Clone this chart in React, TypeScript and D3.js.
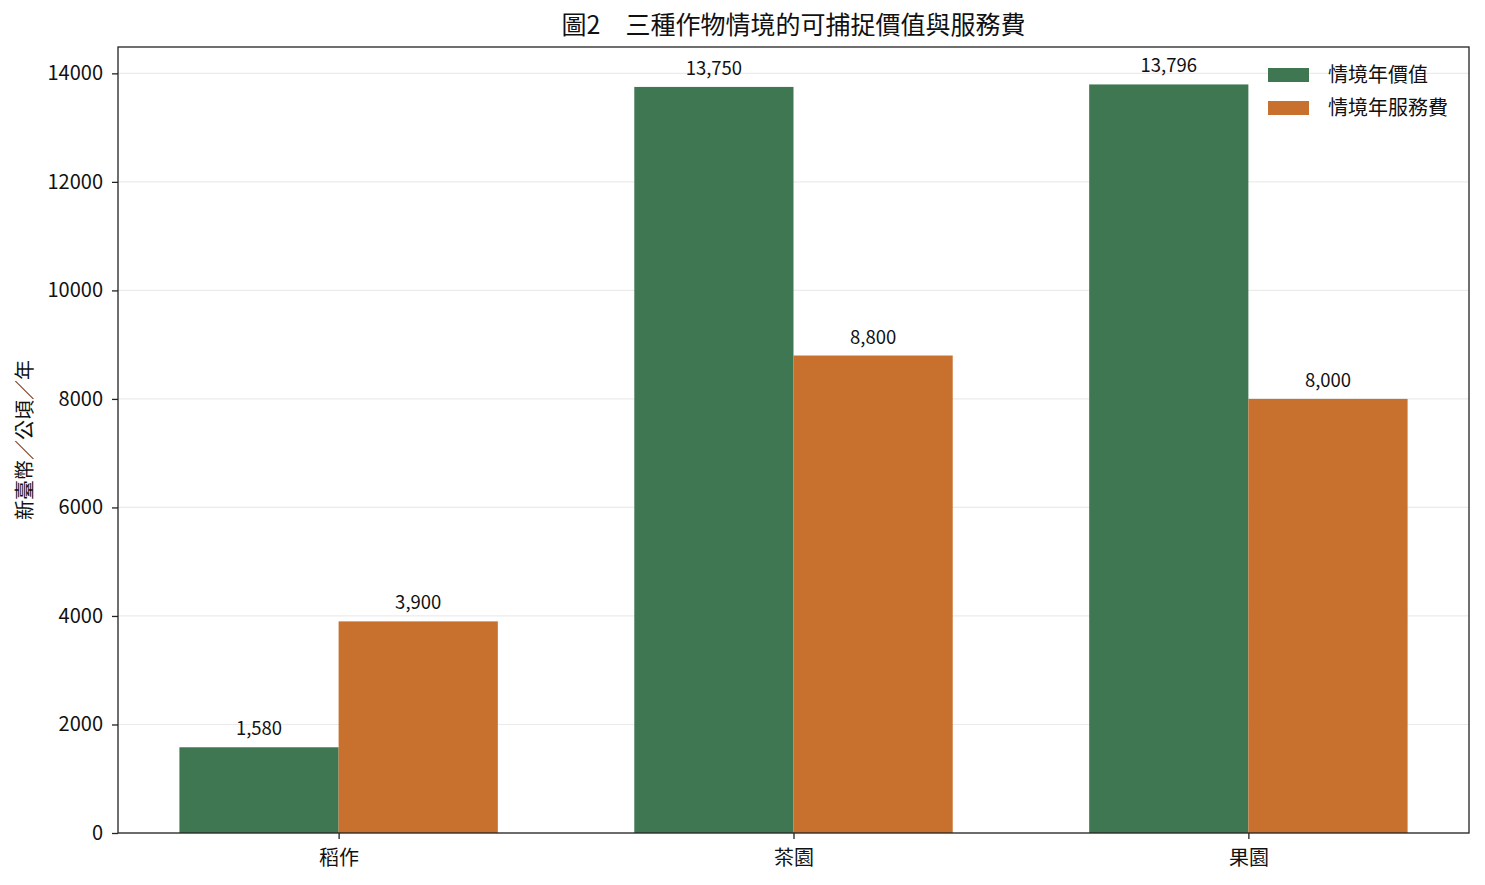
import { useRef, useEffect } from 'react'
import * as d3 from 'd3'

const categories = ['稻作', '茶園', '果園']
const seriesNames = ['情境年價值', '情境年服務費']
const valueSeries = [1580, 13750, 13796]
const feeSeries = [3900, 8800, 8000]
const yTicks = [0, 2000, 4000, 6000, 8000, 10000, 12000, 14000]
const colors = ['#3f7752', '#c8702e']

const FONT = '"Noto Sans CJK TC", "Noto Sans", sans-serif'

const App = () => {
	const svgRef = useRef<SVGSVGElement | null>(null)

	useEffect(() => {
		if (!svgRef.current) return
		const width = 1485
		const height = 885
		const margin = { top: 47, right: 16, bottom: 52, left: 118 }

		d3.select(svgRef.current).selectAll('*').remove()
		const svg = d3
			.select(svgRef.current)
			.attr('width', width)
			.attr('height', height)
			.style('font-family', FONT)

		const barW = 0.35
		const x = d3
			.scaleLinear()
			.domain([-0.485, categories.length - 1 + 0.485])
			.range([margin.left, width - margin.right])
		const y = d3
			.scaleLinear()
			.domain([0, d3.max(valueSeries.concat(feeSeries))! * 1.05])
			.range([height - margin.bottom, margin.top])

		// grid
		svg
			.append('g')
			.selectAll('line')
			.data(yTicks)
			.enter()
			.append('line')
			.attr('x1', margin.left)
			.attr('x2', width - margin.right)
			.attr('y1', (d) => y(d))
			.attr('y2', (d) => y(d))
			.attr('stroke', '#ebebeb')
			.attr('stroke-width', 1.2)

		const series = [valueSeries, feeSeries]
		series.forEach((vals, si) => {
			const off = si === 0 ? -barW : 0
			const g = svg.append('g')
			g.selectAll('rect')
				.data(vals)
				.enter()
				.append('rect')
				.attr('x', (_, i) => x(i + off))
				.attr('width', x(barW) - x(0))
				.attr('y', (d) => y(d))
				.attr('height', (d) => y(0) - y(d))
				.attr('fill', colors[si])
			g.selectAll('text')
				.data(vals)
				.enter()
				.append('text')
				.attr('x', (_, i) => x(i + off + barW / 2))
				.attr('y', (d) => y(d) - 12)
				.attr('text-anchor', 'middle')
				.attr('font-size', 18.5)
				.attr('fill', '#111')
				.text((d) => d3.format(',')(d))
		})

		// axes
		const xAxis = svg
			.append('g')
			.attr('transform', `translate(0,${height - margin.bottom})`)
			.call(
				d3
					.axisBottom(x)
					.tickValues(categories.map((_, i) => i))
					.tickFormat((d) => categories[d as number])
					.tickSize(6)
					.tickPadding(12)
			)
		xAxis.select('.domain').remove()
		xAxis.selectAll('text').attr('font-size', 20).attr('fill', '#111').style('font-family', FONT)
		xAxis.selectAll('line').attr('stroke', '#222').attr('stroke-width', 1.3)

		const yAxis = svg
			.append('g')
			.attr('transform', `translate(${margin.left},0)`)
			.call(d3.axisLeft(y).tickValues(yTicks).tickFormat(d3.format('d')).tickSize(6).tickPadding(9))
		yAxis.select('.domain').remove()
		yAxis.selectAll('text').attr('font-size', 20).attr('fill', '#111').style('font-family', FONT)
		yAxis.selectAll('line').attr('stroke', '#222').attr('stroke-width', 1.3)

		// frame
		svg
			.append('rect')
			.attr('x', margin.left)
			.attr('y', margin.top)
			.attr('width', width - margin.right - margin.left)
			.attr('height', height - margin.bottom - margin.top)
			.attr('fill', 'none')
			.attr('stroke', '#222')
			.attr('stroke-width', 1.3)

		// title
		svg
			.append('text')
			.attr('x', (margin.left + width - margin.right) / 2)
			.attr('y', 34)
			.attr('text-anchor', 'middle')
			.attr('font-size', 25)
			.attr('fill', '#111')
			.text('圖2\u3000三種作物情境的可捕捉價值與服務費')

		// y label
		svg
			.append('text')
			.attr('transform', `translate(32,${(margin.top + height - margin.bottom) / 2}) rotate(-90)`)
			.attr('text-anchor', 'middle')
			.attr('font-size', 20)
			.attr('fill', '#111')
			.text('新臺幣／公頃／年')

		// legend
		const lg = svg.append('g').attr('transform', `translate(${width - margin.right - 201},68)`)
		seriesNames.forEach((name, i) => {
			lg.append('rect')
				.attr('x', 0)
				.attr('y', i * 33)
				.attr('width', 41)
				.attr('height', 14)
				.attr('fill', colors[i])
			lg.append('text')
				.attr('x', 60)
				.attr('y', i * 33 + 7)
				.attr('dy', '0.35em')
				.attr('font-size', 20)
				.attr('fill', '#111')
				.text(name)
		})
	}, [])

	return <svg ref={svgRef} style={{ display: 'block', margin: '-8px' }}></svg>
}

export default App
